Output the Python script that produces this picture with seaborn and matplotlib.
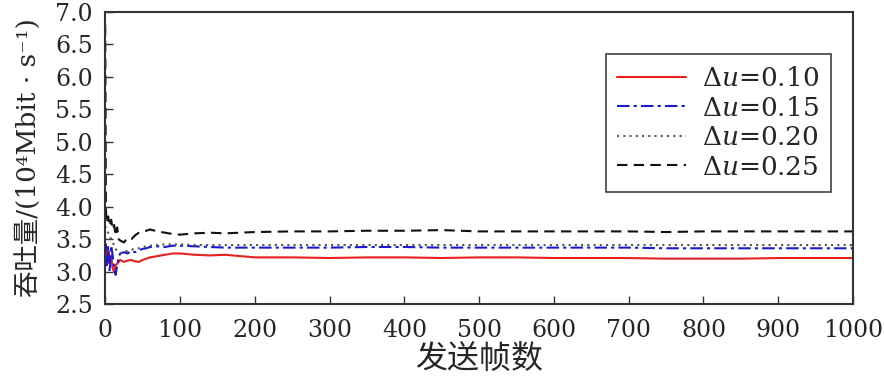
import pandas as pd
import matplotlib
matplotlib.use("Agg")
import matplotlib.pyplot as plt
import seaborn as sns

# Frames sent (x) and throughput values
frames = [0, 1, 2, 4, 6, 8, 10, 12, 14, 16, 18, 20, 25, 30, 35, 40, 45, 50, 55, 60,
          70, 80, 90, 100, 120, 140, 160, 180, 200, 250, 300, 350, 400, 450, 500,
          550, 600, 650, 700, 750, 800, 850, 900, 950, 1000]

du_010 = [3.20, 3.30, 3.10, 3.35, 3.15, 3.25, 3.05, 3.00, 3.10, 3.12, 3.15, 3.18, 3.15,
          3.17, 3.18, 3.16, 3.15, 3.18, 3.20, 3.22, 3.24, 3.26, 3.28, 3.28, 3.26, 3.25,
          3.26, 3.24, 3.22, 3.22, 3.21, 3.22, 3.22, 3.21, 3.22, 3.22, 3.21, 3.21, 3.21,
          3.20, 3.20, 3.20, 3.21, 3.21, 3.21]
du_015 = [3.35, 3.42, 3.10, 3.38, 3.00, 3.40, 3.25, 3.05, 2.95, 3.10, 3.22, 3.28, 3.30,
          3.28, 3.32, 3.30, 3.33, 3.35, 3.36, 3.38, 3.39, 3.38, 3.40, 3.40, 3.39, 3.38,
          3.37, 3.37, 3.37, 3.37, 3.37, 3.38, 3.38, 3.37, 3.37, 3.37, 3.37, 3.37, 3.37,
          3.36, 3.36, 3.36, 3.36, 3.36, 3.36]
du_020 = [3.70, 3.66, 3.62, 3.60, 3.55, 3.50, 3.45, 3.40, 3.35, 3.32, 3.30, 3.28, 3.30,
          3.32, 3.34, 3.35, 3.36, 3.38, 3.39, 3.40, 3.41, 3.42, 3.42, 3.42, 3.41, 3.41,
          3.41, 3.41, 3.41, 3.41, 3.41, 3.41, 3.41, 3.41, 3.41, 3.41, 3.41, 3.41, 3.41,
          3.41, 3.41, 3.41, 3.41, 3.41, 3.41]
du_025 = [6.80, 3.95, 3.75, 3.85, 3.70, 3.80, 3.65, 3.72, 3.55, 3.68, 3.50, 3.48, 3.45,
          3.52, 3.50, 3.56, 3.60, 3.62, 3.63, 3.65, 3.62, 3.60, 3.58, 3.57, 3.59, 3.60,
          3.59, 3.60, 3.61, 3.62, 3.62, 3.63, 3.63, 3.64, 3.62, 3.62, 3.62, 3.62, 3.62,
          3.61, 3.62, 3.62, 3.62, 3.62, 3.62]

labels = ["$\\Delta u$=0.10", "$\\Delta u$=0.15", "$\\Delta u$=0.20", "$\\Delta u$=0.25"]
series = [du_010, du_015, du_020, du_025]
colors = ["#e8201e", "#1a1acc", "#555555", "#111111"]
styles = ["-", (0, (6, 2, 1.5, 2)), (0, (1, 2)), (0, (5, 3))]

sns.set_theme(style="ticks")
plt.rcParams["font.family"] = ["DejaVu Serif", "Noto Sans CJK SC"]
plt.rcParams["mathtext.fontset"] = "dejavuserif"
plt.rcParams["axes.unicode_minus"] = False

fig = plt.figure(figsize=(8.84, 3.84), dpi=100)
ax = fig.add_axes([0.119, 0.208, 0.846, 0.761])

for vals, lab, c, ls in zip(series, labels, colors, styles):
    df = pd.DataFrame({"frame": frames, "tp": vals})
    sns.lineplot(data=df, x="frame", y="tp", ax=ax, color=c, linestyle=ls,
                 linewidth=1.5, label=lab)

ax.set_xlim(0, 1000)
ax.set_ylim(2.5, 7.0)
ax.set_xticks(range(0, 1001, 100))
ax.set_yticks([2.5, 3.0, 3.5, 4.0, 4.5, 5.0, 5.5, 6.0, 6.5, 7.0])
ax.set_yticklabels([f"{v:.1f}" for v in ax.get_yticks()])
ax.tick_params(direction="in", labelsize=17, length=6, width=1, color="#333333")
ax.tick_params(axis="x", pad=11)
ax.tick_params(axis="y", pad=9)
for s in ax.spines.values():
    s.set_linewidth(1.5)
    s.set_color("#333333")

ax.set_xlabel("发送帧数", fontsize=23, labelpad=2)
ax.set_ylabel("吞吐量/(10⁴Mbit · s⁻¹)", fontsize=19, labelpad=10)

leg = ax.legend(loc="upper right", bbox_to_anchor=(0.988, 0.90), fontsize=19,
                frameon=True, fancybox=False, edgecolor="#111111", handlelength=2.6,
                borderpad=0.45, labelspacing=0.17, handletextpad=0.6)
leg.get_frame().set_linewidth(1.2)

fig.savefig("out.png", dpi=100)
